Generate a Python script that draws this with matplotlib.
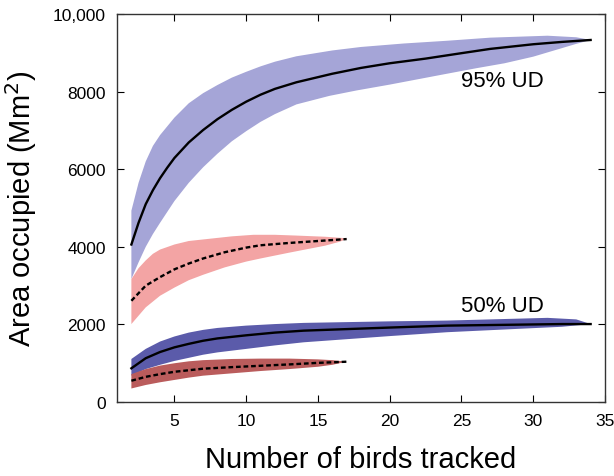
import numpy as np
import matplotlib.pyplot as plt

plt.rcParams['font.family'] = ['Liberation Sans', 'DejaVu Sans']

# 95% UD, all birds (blue)
x95b = [2, 2.5, 3, 3.5, 4, 4.5, 5, 6, 7, 8, 9, 10, 11, 12, 13.5, 16, 18, 20, 22.5, 25, 27, 30, 32, 34]
m95b = [4060, 4620, 5100, 5460, 5770, 6040, 6290, 6690, 7010, 7290, 7530, 7740, 7920, 8070, 8240,
        8460, 8610, 8730, 8850, 8990, 9100, 9220, 9280, 9330]
xh95b = [2, 2.5, 3, 3.5, 4, 5, 6, 7, 8, 9, 10, 11, 12, 13.5, 16, 18, 21, 24, 27, 31, 33, 34]
hi95b = [4930, 5650, 6200, 6600, 6880, 7330, 7700, 7960, 8170, 8360, 8510, 8650, 8770, 8910, 9060,
         9150, 9240, 9310, 9390, 9440, 9400, 9330]
xl95b = [2, 2.5, 3, 3.5, 4, 5, 6, 7, 8, 9, 10, 11, 12, 13.5, 15.8, 17.7, 20, 23.7, 26, 28, 30, 32, 33, 34]
lo95b = [3170, 3600, 4000, 4330, 4620, 5180, 5650, 6050, 6400, 6720, 6980, 7220, 7420, 7670, 7890,
         8030, 8180, 8440, 8600, 8730, 8900, 9120, 9230, 9330]

# 95% UD, subset (red)
x95r = [2, 3, 4, 5, 6, 7, 8.5, 10, 11, 13, 15, 17]
m95r = [2610, 3000, 3220, 3420, 3570, 3700, 3860, 3980, 4040, 4100, 4150, 4200]
xh95r = [2, 2.5, 3, 3.5, 4, 5, 6, 7.5, 9, 10.5, 12, 13.5, 15.5, 17]
hi95r = [3170, 3450, 3650, 3820, 3930, 4060, 4150, 4210, 4270, 4310, 4310, 4290, 4260, 4220]
xl95r = [2, 3, 4, 5, 6, 7, 8.5, 10, 11, 13, 15.5, 16.5, 17]
lo95r = [2010, 2440, 2740, 2950, 3140, 3280, 3470, 3620, 3700, 3850, 4030, 4130, 4200]

# 50% UD, all birds (blue)
x50b = [2, 3, 4, 5, 6, 7, 8, 10, 12, 14, 17, 20, 24, 28, 32, 34]
m50b = [870, 1130, 1290, 1410, 1500, 1580, 1640, 1720, 1790, 1840, 1880, 1920, 1970, 1990, 2010, 2010]
xh50b = [2, 3, 4, 5, 6, 7, 8, 10, 12, 14, 17, 20, 24, 28, 31, 33, 34]
hi50b = [1110, 1370, 1560, 1690, 1790, 1860, 1910, 1970, 2010, 2040, 2060, 2080, 2100, 2140, 2170, 2130, 2010]
lo50b = [680, 850, 960, 1060, 1140, 1220, 1280, 1370, 1460, 1540, 1620, 1700, 1800, 1870, 1940, 2010]

# 50% UD, subset (red)
x50r = [2, 3, 4, 5, 6, 7, 9, 11, 13, 15, 17]
m50r = [550, 650, 720, 780, 820, 860, 900, 935, 970, 1010, 1040]
xb50r = [2, 3, 4, 5, 6, 7, 9, 11, 13, 15, 16, 17]
hi50r = [720, 850, 940, 1000, 1050, 1080, 1110, 1120, 1120, 1100, 1080, 1040]
lo50r = [350, 440, 510, 570, 630, 680, 740, 800, 850, 910, 960, 1040]


def band(ax, xh, hi, xl, lo, color):
    # closed polygon: upper edge left->right, lower edge right->left
    xs = list(xh) + list(xl)[::-1]
    ys = list(hi) + list(lo)[::-1]
    ax.fill(xs, ys, color=color, lw=0)


fig, ax = plt.subplots(figsize=(6.14, 4.77), dpi=100)
fig.subplots_adjust(left=0.1906, right=0.9853, bottom=0.155, top=0.9686)

band(ax, xh95b, hi95b, xl95b, lo95b, '#a5a5d7')
band(ax, xh95r, hi95r, xl95r, lo95r, '#f3a4a4')
band(ax, xh50b, hi50b, x50b, lo50b, '#5b5baa')
band(ax, xb50r, hi50r, xb50r, lo50r, '#ba5c5c')

ax.plot(x95b, m95b, color='black', lw=1.7)
ax.plot(x50b, m50b, color='black', lw=1.7)
ax.plot(x95r, m95r, color='black', lw=1.7, ls=(0, (2, 1.2)))
ax.plot(x50r, m50r, color='black', lw=1.7, ls=(0, (2, 1.2)))

ax.text(25, 8280, '95% UD', fontsize=16, ha='left', va='center')
ax.text(25, 2480, '50% UD', fontsize=16, ha='left', va='center')

ax.set_xlim(1, 35)
ax.set_ylim(0, 10000)
ax.set_xticks([5, 10, 15, 20, 25, 30, 35])
ax.set_yticks([0, 2000, 4000, 6000, 8000, 10000])
ax.set_yticklabels(['0', '2000', '4000', '6000', '8000', '10,000'])
ax.tick_params(direction='in', top=True, right=True, labelsize=12.5, length=5, pad=8)
for s in ax.spines.values():
    s.set_linewidth(1.0)
    s.set_color('#333333')

ax.set_xlabel('Number of birds tracked', fontsize=21, labelpad=12)
ax.set_ylabel('Area occupied (Mm$^2$)', fontsize=21, labelpad=10)

fig.savefig('out.png')
